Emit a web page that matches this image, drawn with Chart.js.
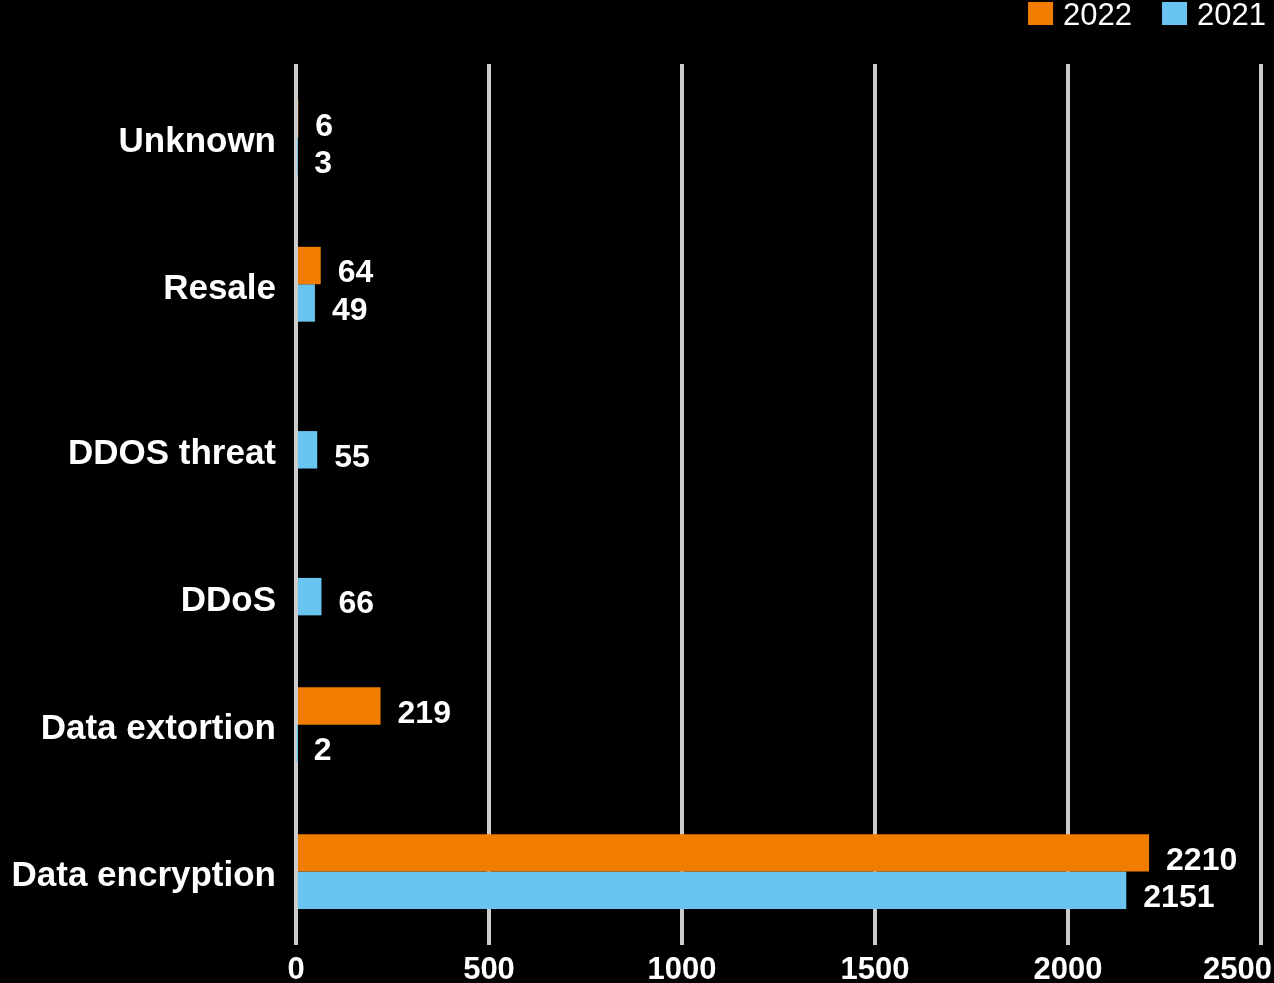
<!DOCTYPE html>
<html>
<head>
<meta charset="utf-8">
<title>Attack types 2021 vs 2022</title>
<script src="https://cdn.jsdelivr.net/npm/chart.js@4"></script>
<style>
    html, body { margin: 0; padding: 0; background: #000; }
    #wrap { width: 1274px; height: 983px; }
</style>
</head>
<body>
<div id="wrap"><canvas id="attackChart"></canvas></div>
<script>
// Chart data
const categories = ['Unknown', 'Resale', 'DDOS threat', 'DDoS', 'Data extortion', 'Data encryption'];
const values2022 = [6, 64, null, null, 219, 2210];
const values2021 = [3, 49, 55, 66, 2, 2151];
const xTicks = [0, 500, 1000, 1500, 2000, 2500];

const ORANGE = '#f07d00';
const BLUE = '#6ac4f0';
const FONT = '"Liberation Sans", Arial, Helvetica, sans-serif';

// Category labels, value labels, x tick labels and legend drawn by hand
const labelPlugin = {
    id: 'labelPlugin',
    beforeDraw(chart) {
        const ctx = chart.ctx;
        ctx.save();
        ctx.fillStyle = '#000';
        ctx.fillRect(0, 0, chart.width, chart.height);
        ctx.restore();
    },
    afterDraw(chart) {
        const ctx = chart.ctx;
        const xScale = chart.scales.x;
        const area = chart.chartArea;
        ctx.save();
        ctx.fillStyle = '#fff';

        // value labels next to each bar
        ctx.font = 'bold 32px ' + FONT;
        ctx.textAlign = 'left';
        ctx.textBaseline = 'middle';
        chart.data.datasets.forEach((ds, di) => {
            const meta = chart.getDatasetMeta(di);
            meta.data.forEach((bar, i) => {
                const v = ds.data[i];
                if (v === null || v === undefined) return;
                ctx.fillText(String(v), bar.x + 17, bar.y + 8);
            });
        });

        // category labels, centred on the bars that exist
        ctx.font = 'bold 35px ' + FONT;
        ctx.textAlign = 'right';
        categories.forEach((cat, i) => {
            const ys = [];
            chart.data.datasets.forEach((ds, di) => {
                if (ds.data[i] !== null) ys.push(chart.getDatasetMeta(di).data[i].y);
            });
            const y = ys.reduce((a, b) => a + b, 0) / ys.length;
            ctx.fillText(cat, area.left - 20, y + 5);
        });

        // x tick labels
        ctx.font = 'bold 31px ' + FONT;
        ctx.textAlign = 'center';
        xTicks.forEach(t => {
            const label = String(t);
            const w = ctx.measureText(label).width;
            let x = xScale.getPixelForValue(t);
            if (x + w / 2 > chart.width - 2) x = chart.width - 2 - w / 2;
            ctx.fillText(label, x, area.bottom + 25);
        });

        // legend, top right
        ctx.font = '31px ' + FONT;
        ctx.textAlign = 'left';
        let right = chart.width - 8;
        const items = chart.data.datasets.slice().reverse();
        items.forEach(ds => {
            const tw = ctx.measureText(ds.label).width;
            const textX = right - tw;
            const boxX = textX - 10 - 25;
            ctx.fillStyle = ds.backgroundColor;
            ctx.fillRect(boxX, 2, 25, 23);
            ctx.fillStyle = '#fff';
            ctx.fillText(ds.label, textX, 16);
            right = boxX - 30;
        });
        ctx.restore();
    }
};

document.addEventListener('DOMContentLoaded', function () {
    const canvas = document.getElementById('attackChart');
    const ctx = canvas.getContext('2d');

    new Chart(ctx, {
        type: 'bar',
        data: {
            labels: categories,
            datasets: [{
                label: '2022',
                data: values2022,
                backgroundColor: ORANGE,
                borderWidth: 0
            }, {
                label: '2021',
                data: values2021,
                backgroundColor: BLUE,
                borderWidth: 0
            }]
        },
        options: {
            indexAxis: 'y',
            responsive: true,
            maintainAspectRatio: false,
            animation: false,
            categoryPercentage: 0.51,
            barPercentage: 1.0,
            layout: { padding: { left: 296, right: 13, top: 64, bottom: 38 } },
            plugins: {
                legend: { display: false },
                tooltip: { enabled: false }
            },
            scales: {
                x: {
                    min: 0,
                    max: 2500,
                    ticks: { display: false, stepSize: 500 },
                    grid: { color: '#cccccc', lineWidth: 4, drawTicks: false },
                    border: { display: false }
                },
                y: {
                    display: false
                }
            }
        },
        plugins: [labelPlugin]
    });
});
</script>
</body>
</html>
